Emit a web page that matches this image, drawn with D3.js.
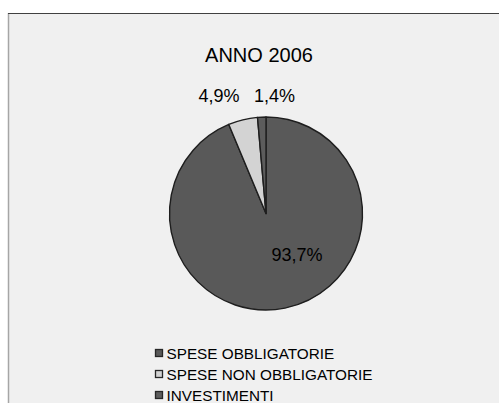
<!DOCTYPE html>
<html><head><meta charset="utf-8">
<script src="https://cdn.jsdelivr.net/npm/d3@7/dist/d3.min.js"></script>
<style>html,body{margin:0;padding:0;background:#fff;overflow:hidden}</style>
</head><body>
<svg id="c" width="499" height="403"></svg>
<script>
const categories = ["SPESE OBBLIGATORIE", "SPESE NON OBBLIGATORIE", "INVESTIMENTI"];
const values = [93.7, 4.9, 1.4];
const valueLabels = ["93,7%", "4,9%", "1,4%"];
const colors = ["#595959", "#d3d3d3", "#5c5c5c"];
const title = "ANNO 2006";

const svg = d3.select("#c");
const font = "Liberation Sans, Arial, sans-serif";

// frame
svg.append("rect").attr("x", 8).attr("y", 13).attr("width", 520).attr("height", 420).attr("fill", "#f0f0f0");
svg.append("line").attr("x1", 8.5).attr("x2", 8.5).attr("y1", 13).attr("y2", 403).attr("stroke", "#a6a6a6").attr("stroke-width", 1.5);
svg.append("line").attr("x1", 8).attr("x2", 499).attr("y1", 13.5).attr("y2", 13.5).attr("stroke", "#404040").attr("stroke-width", 1);

svg.append("text").attr("x", 259).attr("y", 62).attr("text-anchor", "middle")
  .attr("font-family", font).attr("font-size", 20).attr("fill", "#000").text(title);

const cx = 266, cy = 213.5, R = 96.5;
const pie = d3.pie().sort(null).value(d => d);
const arcs = pie(values);
const arc = d3.arc().innerRadius(0).outerRadius(R);
const g = svg.append("g").attr("transform", `translate(${cx},${cy})`);
g.selectAll("path").data(arcs).join("path")
  .attr("d", arc).attr("fill", (d, i) => colors[i])
  .attr("stroke", "#1e1e1e").attr("stroke-width", 1.4).attr("stroke-linejoin", "round");

// labels: inside for the large slice, outside for small ones
const labelRadius = [0.55 * R, 1.17 * R, 1.17 * R];
const labelShift = [[20.5, -11], [-20, -8], [13.5, -5]];
g.selectAll("text.lbl").data(arcs).join("text").attr("class", "lbl")
  .attr("x", (d, i) => { const a = (d.startAngle + d.endAngle) / 2; return Math.sin(a) * labelRadius[i] + labelShift[i][0]; })
  .attr("y", (d, i) => { const a = (d.startAngle + d.endAngle) / 2; return -Math.cos(a) * labelRadius[i] + labelShift[i][1]; })
  .attr("text-anchor", "middle").attr("dominant-baseline", "central")
  .attr("font-family", font).attr("font-size", 18).attr("fill", "#000")
  .text((d, i) => valueLabels[i]);

// legend
const lg = svg.append("g");
const rowY = d3.scalePoint().domain(categories).range([353, 395]);
categories.forEach((c, i) => {
  const y = rowY(c);
  lg.append("rect").attr("x", 155.5).attr("y", y - 3.5).attr("width", 7).attr("height", 7)
    .attr("fill", colors[i]).attr("stroke", "#262626").attr("stroke-width", 1.3);
  lg.append("text").attr("x", 166.5).attr("y", y).attr("dominant-baseline", "central")
    .attr("font-family", font).attr("font-size", 15.3).attr("fill", "#000").text(c);
});
</script>
</body></html>
